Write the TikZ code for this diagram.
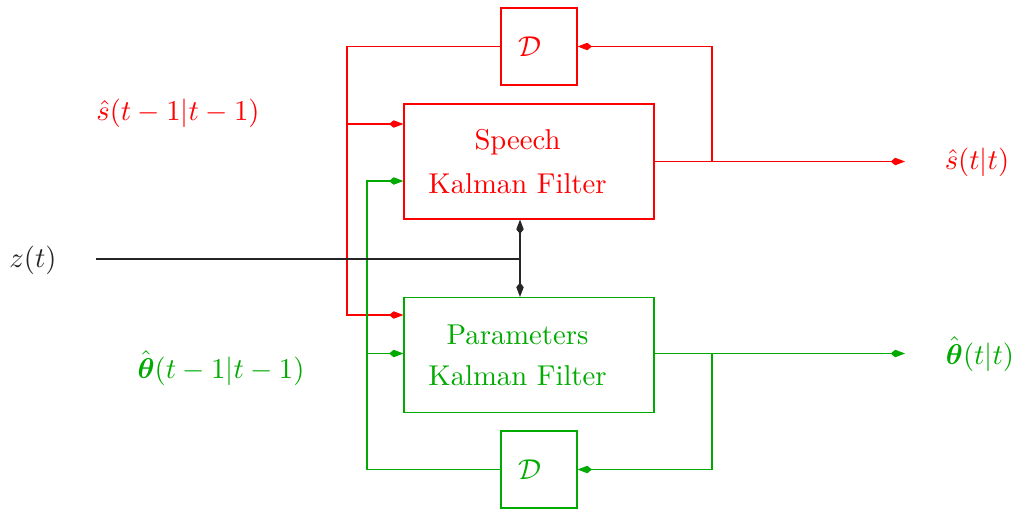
\documentclass[tikz,border=0pt]{standalone}
\usepackage{amsmath}
\usepackage{amssymb}
\usepackage{xcolor}
\usepackage{tikz}
\usetikzlibrary{positioning, arrows.meta, calc}

\definecolor{kfred}{RGB}{255,0,0}
\definecolor{kfgreen}{RGB}{0,170,0}

\tikzset{
    tip/.tip={Kite[length=5pt, width=2.6pt, inset=1.6pt]},
    kfbox/.style={draw, rectangle, minimum width=250*0.01225cm, minimum height=115*0.01225cm, align=center, inner sep=0pt},
    delaybox/.style={draw, rectangle, minimum width=76*0.01225cm, minimum height=77*0.01225cm, inner sep=0pt},
    redline/.style={kfred},
    greenline/.style={kfgreen},
}

\begin{document}
\begin{tikzpicture}[x=0.01225cm, y=-0.01225cm]
            \useasboundingbox (0,0) rectangle (1017,508);

            % filters and delays
            \node[kfbox, kfred, text=kfred] (sk) at (529,161.5) {Speech\hspace*{8pt}\\[3.3pt]Kalman Filter\hspace*{8pt}};
            \node[kfbox, kfgreen, text=kfgreen] (pk) at (529,355) {Parameters\hspace*{8pt}\\[2.3pt]Kalman Filter\hspace*{8pt}};
            \node[delaybox, kfred, text=kfred] (ds) at (539,46.5) {\hspace*{-6pt}$\mathcal{D}$};
            \node[delaybox, kfgreen, text=kfgreen] (dp) at (539,469.5) {\hspace*{-6pt}$\mathcal{D}$};

            % labels
            \node[black!85] (zt) at (33,260) {$z(t)$};
            \node[text=kfred] (sprev) at (178,113) {$\hat{s}(t-1|t-1)$};
            \node[text=kfgreen] (pprev) at (221,368) {$\hat{\boldsymbol{\theta}}(t-1|t-1)$};
            \node[text=kfred] (snow) at (977,162) {$\hat{s}(t|t)$};
            \node[text=kfgreen] (pnow) at (980,354) {$\hat{\boldsymbol{\theta}}(t|t)$};

            \coordinate (zin) at (96,259);
            \coordinate (zj) at (520,259);
            \coordinate (jr) at (712,161.5);
            \coordinate (jg) at (712,353.5);
            \coordinate (send) at (905,161.5);
            \coordinate (pend) at (905,353.5);
            \coordinate (rl) at (347,315);
            \coordinate (rb) at (347,124);
            \coordinate (gl) at (367,181);
            \coordinate (gb) at (367,353.5);

            % speech loop
            \draw[redline, -tip] (sk.east) -- (send);
            \draw[redline, -tip] (jr) |- (ds.east);
            \draw[redline, -tip] (ds.west) -| (rl) -- (rl -| pk.west);
            \draw[redline, -tip] (rb) -- (rb -| sk.west);

            % parameter loop
            \draw[greenline, -tip] (pk.east |- jg) -- (pend);
            \draw[greenline, -tip] (jg) |- (dp.east);
            \draw[greenline, -tip] (dp.west) -| (gl) -- (gl -| sk.west);
            \draw[greenline, -tip] (gb) -- (gb -| pk.west);

            % observation
            \draw[black!85] (zin) -- (zj);
            \draw[black!85, tip-tip] (zj |- sk.south) -- (zj |- pk.north);
\end{tikzpicture}
\end{document}
